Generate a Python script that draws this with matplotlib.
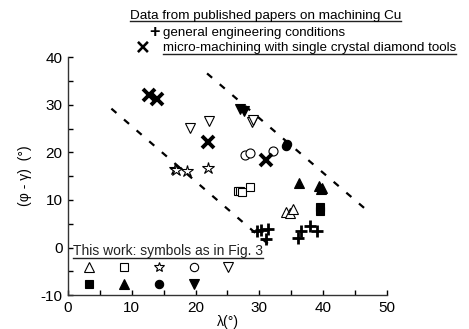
import numpy as np
import matplotlib
matplotlib.use('Agg')
import matplotlib.pyplot as plt
from matplotlib.lines import Line2D

plt.rcParams['font.family'] = ['Liberation Sans', 'DejaVu Sans']
plt.rcParams['axes.unicode_minus'] = False

# published data: general engineering conditions (+)
gen_lam = [29.7, 30.3, 31.3, 31.0, 36.0, 36.5, 38.0, 39.1]
gen_phi = [3.4, 3.6, 4.0, 1.8, 2.0, 3.5, 4.5, 3.5]

# published data: micro-machining with diamond tools (x)
mic_lam = [12.7, 14.0, 22.0, 31.0]
mic_phi = [32.1, 31.2, 22.1, 18.3]

# this work, open symbols
tri_up_lam = [34.2, 34.8, 35.3]
tri_up_phi = [7.5, 7.2, 8.1]
sq_lam = [26.6, 27.0, 27.3, 28.5]
sq_phi = [11.8, 11.8, 11.6, 12.8]
star_lam = [16.7, 17.0, 18.6, 22.0]
star_phi = [16.6, 16.3, 16.1, 16.8]
circ_lam = [27.8, 28.5, 32.2]
circ_phi = [19.5, 19.8, 20.2]
tri_dn_lam = [19.1, 22.1, 28.8, 29.0]
tri_dn_phi = [25.1, 26.5, 26.3, 26.8]

# this work, filled symbols
fsq_lam = [39.5, 39.5]
fsq_phi = [8.5, 7.6]
ftri_up_lam = [36.2, 39.4, 39.8, 39.6]
ftri_up_phi = [13.5, 13.0, 12.6, 12.3]
fcirc_lam = [34.1, 34.4]
fcirc_phi = [21.3, 21.8]
ftri_dn_lam = [26.9, 27.6]
ftri_dn_phi = [29.1, 28.8]

# dashed guide lines (end points)
lo_line_lam = [6.8, 31.5]
lo_line_phi = [29.2, 0.6]
hi_line_lam = [21.8, 46.8]
hi_line_phi = [36.6, 7.9]

fig = plt.figure(figsize=(4.69, 3.29), dpi=100)
ax = fig.add_axes([0.145, 0.103, 0.68, 0.723])

dash = dict(color='black', lw=1.6, ls=(0, (3, 4.5)))
ax.plot(lo_line_lam, lo_line_phi, **dash)
ax.plot(hi_line_lam, hi_line_phi, **dash)

def pts(x, y, m, ms, filled, mew=0.8):
    ax.plot(x, y, ls='none', marker=m, ms=ms, mew=mew, mec='black',
            mfc='black' if filled else 'white', zorder=3)

pts(tri_up_lam, tri_up_phi, '^', 7, False)
pts(sq_lam, sq_phi, 's', 6, False)
pts(star_lam, star_phi, '*', 9, False)
pts(circ_lam, circ_phi, 'o', 6.5, False)
pts(tri_dn_lam, tri_dn_phi, 'v', 7, False)
pts(fsq_lam, fsq_phi, 's', 6, True)
pts(ftri_up_lam, ftri_up_phi, '^', 6.5, True)
pts(fcirc_lam, fcirc_phi, 'o', 6, True)
pts(ftri_dn_lam, ftri_dn_phi, 'v', 7, True)
ax.plot(gen_lam, gen_phi, ls='none', marker='+', ms=8, mew=2, color='black', zorder=4)
ax.plot(mic_lam, mic_phi, ls='none', marker='x', ms=9, mew=2.8, color='black', zorder=4)

ax.set_xlim(0, 50)
ax.set_ylim(-10, 40)
ax.set_xticks([0, 10, 20, 30, 40, 50])
ax.set_yticks([-10, 0, 10, 20, 30, 40])
ax.set_xticks(np.arange(5, 50, 10), minor=True)
ax.set_yticks(np.arange(-5, 40, 10), minor=True)
ax.tick_params(which='both', direction='in', length=3.5, width=1, labelsize=11, pad=4)
for s in ['top', 'right']:
    ax.spines[s].set_visible(False)
for s in ['left', 'bottom']:
    ax.spines[s].set_linewidth(1)
    ax.spines[s].set_color('#333333')

ax.set_xlabel('λ(°)', fontsize=10, labelpad=0)
ax.set_ylabel('(φ - γ)  (°)', fontsize=10, labelpad=6)

# legend for this work's symbols
handles = []
for m, f in [('^', False), ('s', True), ('s', False), ('^', True), ('*', False),
             ('o', True), ('o', False), ('v', True), ('v', False)]:
    handles.append(Line2D([], [], ls='none', marker=m, ms=7 if m in '^v*' else 6,
                          mew=0.8, mec='black', mfc='black' if f else 'white'))
leg = ax.legend(handles, [''] * 9, ncol=5, frameon=False, fontsize=9,
                title='This work: symbols as in Fig. 3', title_fontsize=10,
                loc='lower left', bbox_to_anchor=(-0.012, -0.02), handlelength=2.64,
                handletextpad=0, columnspacing=0.14, labelspacing=0.35,
                alignment='left', borderpad=0.2)
leg.get_title().set_color('#222222')

t1 = fig.text(0.277, 0.952, 'Data from published papers on machining Cu', fontsize=9.7, va='center')
fig.text(0.33, 0.901, '+', fontsize=13, fontweight='bold', va='center', ha='center')
fig.text(0.347, 0.901, 'general engineering conditions', fontsize=9.6, va='center')
fig.text(0.305, 0.853, '×', fontsize=17, fontweight='bold', va='center', ha='center')
t2 = fig.text(0.347, 0.853, 'micro-machining with single crystal diamond tools', fontsize=9.6, va='center')

# underline the headings
fig.canvas.draw()
inv = fig.transFigure.inverted()
for t in [t1, t2, leg.get_title()]:
    bb = t.get_window_extent()
    (x0, y0), (x1, y1) = inv.transform([[bb.x0, bb.y0], [bb.x1, bb.y1]])
    fig.add_artist(Line2D([x0, x1], [y0 + 0.002, y0 + 0.002], color='#222222',
                          lw=1, transform=fig.transFigure))

fig.savefig('out.png', dpi=100)
